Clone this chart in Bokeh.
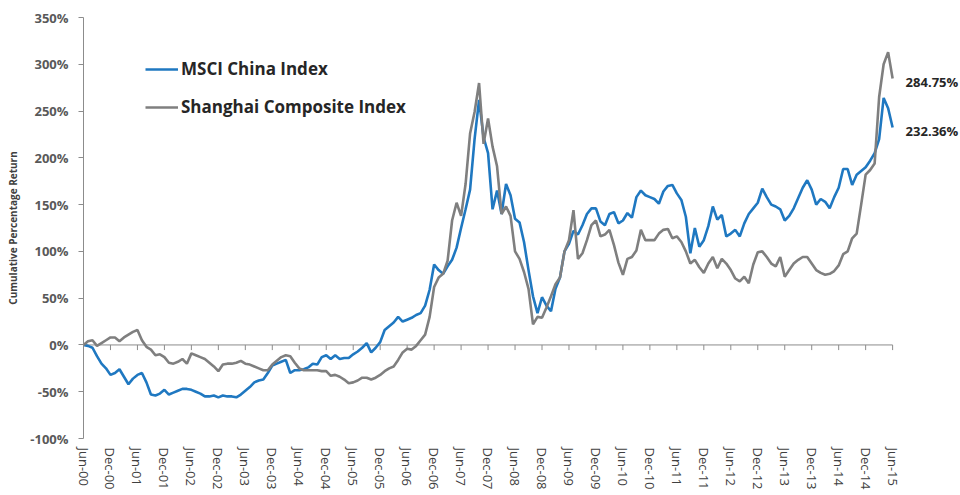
import pandas as pd
from bokeh.plotting import figure
from bokeh.models import Range1d, FixedTicker, PrintfTickFormatter, Legend, LegendItem
from bokeh.core.properties import value
from bokeh.embed import file_html
from bokeh.resources import INLINE

# ---------------- data ----------------
months = list(pd.date_range("2000-06-01", periods=181, freq="MS").strftime("%b-%y"))

msci = [
    0, -1, -3, -12, -20, -25, -32, -30, -26, -34, -42, -36, -32, -30, -40, -53,
    -54, -52, -48, -53, -51, -49, -47, -47, -48, -50, -52, -55, -55, -54, -56, -54,
    -55, -55, -56, -53, -49, -45, -40, -38, -37, -30, -22, -20, -18, -16, -30, -27,
    -27, -26, -24, -20, -21, -13, -11, -15, -11, -15, -14, -14, -10, -7, -3, 2,
    -8, -3, 3, 16, 20, 24, 30, 25, 27, 29, 32, 34, 42, 59, 86, 80,
    76, 84, 91, 104, 125, 145, 166, 220, 262, 222, 205, 145, 165, 140, 172, 160,
    135, 131, 110, 80, 52, 34, 51, 42, 36, 60, 72, 100, 108, 122, 118, 128,
    140, 146, 146, 132, 128, 140, 142, 130, 133, 141, 136, 158, 165, 160, 158, 156,
    151, 164, 170, 171, 162, 155, 137, 98, 125, 105, 112, 127, 148, 134, 139, 116,
    119, 123, 116, 130, 140, 146, 152, 167, 158, 150, 148, 145, 133, 138, 146, 157,
    168, 176, 166, 150, 156, 153, 146, 158, 168, 188, 188, 171, 182, 186, 190, 197,
    205, 220, 264, 253, 232.36,
]

shanghai = [
    0, 4, 5, -1, 2, 5, 8, 8, 4, 8, 11, 14, 16, 5, -2, -5,
    -11, -10, -13, -19, -20, -18, -15, -20, -9, -11, -13, -15, -19, -23, -28, -21,
    -20, -20, -19, -17, -20, -21, -23, -25, -27, -27, -21, -17, -13, -11, -12, -19,
    -25, -27, -27, -27, -27, -28, -28, -33, -32, -34, -37, -41, -40, -38, -35, -35,
    -37, -35, -32, -28, -25, -23, -16, -8, -4, -5, -1, 5, 11, 30, 62, 72,
    76, 90, 133, 152, 138, 172, 226, 249, 280, 215, 242, 212, 191, 140, 148, 138,
    100, 92, 78, 60, 22, 30, 29, 40, 52, 65, 72, 100, 112, 144, 92, 98,
    112, 128, 133, 116, 118, 123, 107, 88, 75, 92, 94, 101, 123, 112, 112, 112,
    119, 123, 124, 114, 116, 110, 100, 87, 91, 83, 77, 87, 94, 82, 92, 87,
    80, 71, 68, 73, 66, 86, 99, 100, 94, 87, 84, 94, 73, 80, 87, 91,
    94, 94, 87, 80, 77, 75, 76, 79, 85, 97, 100, 114, 119, 150, 182, 187,
    194, 265, 300, 313, 284.75,
]

series_names = ["MSCI China Index", "Shanghai Composite Index"]
end_labels = ["284.75%", "232.36%"]
y_ticks = [-100, -50, 0, 50, 100, 150, 200, 250, 300, 350]

# ---------------- figure ----------------
x = list(range(len(months)))
label_idx = x[::6]

BLUE = "#1F78C1"
GREY = "#7F7F7F"
FONT = "Open Sans"

p = figure(width=960, height=495, output_backend="svg", toolbar_location=None,
           x_range=Range1d(0, 195.1), y_range=Range1d(-100, 350),
           min_border_left=83, min_border_right=0, min_border_top=17, min_border_bottom=57,
           title_location=None)
p.outline_line_color = None
p.xgrid.visible = False
p.ygrid.visible = False
p.background_fill_color = "white"
p.border_fill_color = "white"

# x axis (labels only; the axis line is drawn at 0%)
p.xaxis.ticker = FixedTicker(ticks=label_idx)
p.xaxis.major_label_overrides = {i: months[i] for i in label_idx}
p.xaxis.major_label_orientation = "vertical"
p.xaxis.axis_line_color = None
p.xaxis.major_tick_line_color = None
p.xaxis.minor_tick_line_color = None
p.xaxis.major_tick_out = 0
p.xaxis.major_tick_in = 0
p.xaxis.major_label_standoff = 9
p.xaxis.major_label_text_font = FONT
p.xaxis.major_label_text_font_size = "13px"
p.xaxis.major_label_text_color = "#404040"

# y axis
p.yaxis.ticker = FixedTicker(ticks=y_ticks)
p.yaxis.formatter = PrintfTickFormatter(format="%d%%")
p.yaxis.axis_label = "Cumulative Percentage Return"
p.yaxis.axis_label_text_font = FONT
p.yaxis.axis_label_text_font_style = "bold"
p.yaxis.axis_label_text_font_size = "10px"
p.yaxis.axis_label_text_color = "#404040"
p.yaxis.axis_label_standoff = 7
p.yaxis.axis_line_color = "#8C8C8C"
p.yaxis.major_tick_line_color = "#8C8C8C"
p.yaxis.major_tick_in = 0
p.yaxis.major_tick_out = 5
p.yaxis.minor_tick_line_color = None
p.yaxis.major_label_standoff = 10
p.yaxis.major_label_text_font = FONT
p.yaxis.major_label_text_font_style = "bold"
p.yaxis.major_label_text_font_size = "13px"
p.yaxis.major_label_text_color = "#595959"

# horizontal category axis line at 0% with small ticks
p.segment(x0=[x[0]], y0=[0], x1=[x[-1]], y1=[0], line_color="#8C8C8C", line_width=1)
p.segment(x0=label_idx, y0=[0] * len(label_idx), x1=label_idx, y1=[-5.5] * len(label_idx),
          line_color="#8C8C8C", line_width=1)

# series
r_msci = p.line(x, msci, line_color=BLUE, line_width=2.6)
r_sh = p.line(x, shanghai, line_color=GREY, line_width=2.6)

# end-value annotations
p.text(x=[x[-1], x[-1]], y=[shanghai[-1], msci[-1]], text=end_labels,
       x_offset=13, y_offset=3, text_font=value(FONT), text_font_style="bold",
       text_font_size="13px", text_color="#262626",
       text_baseline="middle", text_align="left")

legend = Legend(items=[LegendItem(label=series_names[0], renderers=[r_msci]),
                       LegendItem(label=series_names[1], renderers=[r_sh])],
                location=(62, 320), padding=0, margin=0, spacing=15,
                glyph_width=33, glyph_height=20, label_height=20, label_standoff=3,
                border_line_color=None, background_fill_alpha=0,
                label_text_font=FONT, label_text_font_style="bold",
                label_text_font_size="17px", label_text_color="#262626")
p.add_layout(legend)

open("out.html", "w").write(file_html(p, INLINE))
